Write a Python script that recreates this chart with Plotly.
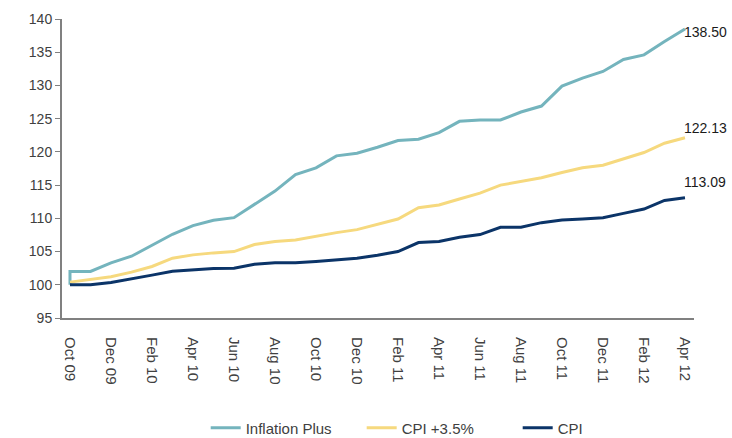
import plotly.graph_objects as go

months = ["Oct 09", "Nov 09", "Dec 09", "Jan 10", "Feb 10", "Mar 10", "Apr 10", "May 10",
          "Jun 10", "Jul 10", "Aug 10", "Sep 10", "Oct 10", "Nov 10", "Dec 10", "Jan 11",
          "Feb 11", "Mar 11", "Apr 11", "May 11", "Jun 11", "Jul 11", "Aug 11", "Sep 11",
          "Oct 11", "Nov 11", "Dec 11", "Jan 12", "Feb 12", "Mar 12", "Apr 12"]

# Inflation Plus starts at 100 and steps to 102 in the first month (drawn as a vertical jump)
inflation_plus_x = ["Oct 09"] + months
inflation_plus = [100.0, 102.0, 102.0, 103.3, 104.3, 105.9, 107.6, 108.9, 109.7, 110.1, 112.1,
                  114.1, 116.6, 117.6, 119.4, 119.8, 120.7, 121.7, 121.9, 122.9, 124.6,
                  124.8, 124.8, 126.0, 126.9, 129.9, 131.1, 132.1, 133.9, 134.6, 136.6, 138.5]

cpi_plus = [100.4, 100.75, 101.2, 101.9, 102.75, 104.0, 104.5, 104.8, 105.0, 106.05, 106.5,
            106.75, 107.35, 107.85, 108.3, 109.15, 109.9, 111.6, 112.0, 112.9, 113.8, 115.0,
            115.5, 116.1, 116.9, 117.6, 118.0, 119.0, 119.9, 121.3, 122.13]

cpi = [100.0, 100.0, 100.35, 100.85, 101.45, 102.05, 102.25, 102.45, 102.5, 103.1, 103.3,
       103.3, 103.5, 103.8, 104.0, 104.45, 105.0, 106.35, 106.5, 107.15, 107.55, 108.65,
       108.65, 109.35, 109.75, 109.9, 110.1, 110.75, 111.4, 112.7, 113.09]

tick_labels = months[::2]
end_labels = ["138.50", "122.13", "113.09"]
end_label_y = [138.1, 123.65, 115.4]

teal = "#74B4BD"
yellow = "#F6D97E"
navy = "#0B3468"
font_family = "Liberation Sans, Arial, sans-serif"

fig = go.Figure()
fig.add_trace(go.Scatter(x=inflation_plus_x, y=inflation_plus, mode="lines", name="Inflation Plus",
                         line=dict(color=teal, width=3)))
fig.add_trace(go.Scatter(x=months, y=cpi_plus, mode="lines", name="CPI +3.5%",
                         line=dict(color=yellow, width=3)))
fig.add_trace(go.Scatter(x=months, y=cpi, mode="lines", name="CPI",
                         line=dict(color=navy, width=3)))

for txt, yv in zip(end_labels, end_label_y):
    fig.add_annotation(x=months[-1], y=yv, text=txt, showarrow=False, xanchor="left",
                       yanchor="middle", xshift=-3,
                       font=dict(family=font_family, size=14, color="#1a1a1a"))

fig.update_layout(
    width=732, height=438,
    margin=dict(l=62, r=38, t=19, b=120, autoexpand=False),
    paper_bgcolor="white", plot_bgcolor="white",
    font=dict(family=font_family, size=13, color="#404040"),
    showlegend=True,
    legend=dict(orientation="h", xref="container", x=0.281, xanchor="left",
                yref="paper", y=-0.368, yanchor="middle",
                entrywidth=111, entrywidthmode="pixels",
                font=dict(size=15, color="#404040"), traceorder="normal"),
)
fig.update_xaxes(type="category", categoryorder="array", categoryarray=months,
                 range=[-0.39, 30.44], tickmode="array", tickvals=tick_labels,
                 ticktext=tick_labels, tickangle=90, showgrid=False, zeroline=False,
                 showline=True, linecolor="#808080", linewidth=2, ticks="",
                 ticklabelstandoff=14,
                 tickfont=dict(size=15, color="#404040"))
fig.update_yaxes(range=[95, 140], dtick=5, showgrid=False, zeroline=False, showline=True,
                 linecolor="#808080", linewidth=2, ticks="outside", ticklen=5,
                 tickcolor="#808080", tickfont=dict(size=14, color="#404040"))

fig.write_html("out.html", config={"displayModeBar": False},
               post_script="document.body.style.margin='0';")
